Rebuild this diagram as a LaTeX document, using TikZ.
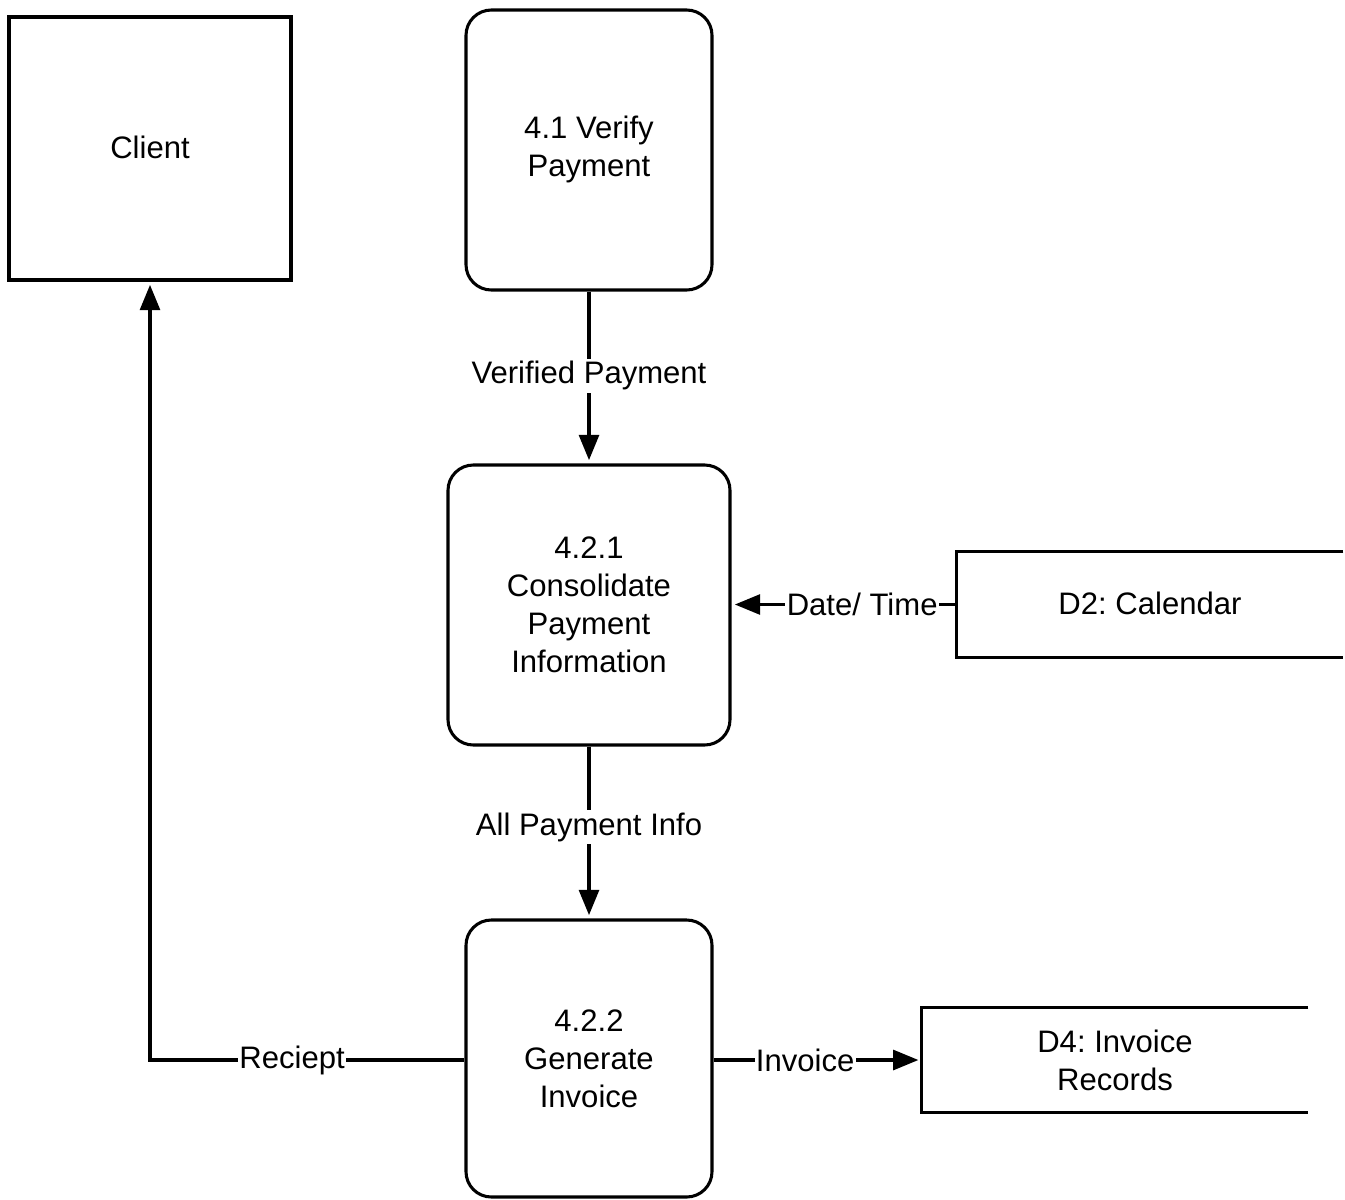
\documentclass[tikz,border=0pt]{standalone}
\usepackage{fontspec}
\setmainfont{Liberation Sans}
\usetikzlibrary{arrows.meta}
\frenchspacing
\begin{document}
\begin{tikzpicture}[x=0.75pt,y=-0.75pt,
  every node/.style={font=\fontsize{23.3}{28.5}\selectfont, align=center, inner sep=0pt},
  line/.style={line width=2.3pt},
  entity/.style={draw, line width=2.3pt, minimum width=282*0.75pt, minimum height=263*0.75pt},
  process/.style={draw, line width=2.3pt, rounded corners=19pt},
  store/.style={minimum width=386*0.75pt},
  flow/.style={line width=2.3pt, -{Triangle[length=19pt,width=15pt]}, shorten >=2.5pt},
  lbl/.style={fill=white, inner xsep=1pt, inner ysep=2pt}
]
\useasboundingbox (0,0) rectangle (1345,1199);

% external entity
\node[entity] (client) at (150,148.5) {\raisebox{2pt}{Client}};

% processes
\node[process, minimum width=246*0.75pt, minimum height=280*0.75pt] (p41) at (589,150)
  {\raisebox{4pt}{\begin{tabular}{@{}c@{}}4.1 Verify\\Payment\end{tabular}}};
\node[process, minimum width=282*0.75pt, minimum height=280*0.75pt] (p421) at (589,605)
  {4.2.1\\Consolidate\\Payment\\Information};
\node[process, minimum width=246*0.75pt, minimum height=277*0.75pt] (p422) at (589,1058.5)
  {4.2.2\\Generate\\Invoice};

% data stores (open on the right)
\node[store, minimum height=105*0.75pt] (d2) at (1150,604.5) {\raisebox{2pt}{D2: Calendar}};
\draw[line] (d2.north east) -- (d2.north west) -- (d2.south west) -- (d2.south east);
\node[store, minimum height=104*0.75pt] (d4) at (1115,1060) {D4: Invoice\\Records};
\draw[line] (d4.north east) -- (d4.north west) -- (d4.south west) -- (d4.south east);

% data flows
\draw[flow] (p41.south) -- node[lbl, pos=0.49] {Verified Payment} (p421.north);
\draw[flow] (p421.south) -- node[lbl, pos=0.47] {All Payment Info} (p422.north);
\draw[flow] (d2.west) -- node[lbl, pos=0.42] {Date/ Time} (p421.east |- d2.west);
\draw[flow] (p422.east |- d4.west) -- node[lbl, pos=0.44] {Invoice} (d4.west);
\draw[flow] (p422.west |- d4.west) -| node[lbl, pos=0.274] {Reciept} (client.south);
\end{tikzpicture}
\end{document}
